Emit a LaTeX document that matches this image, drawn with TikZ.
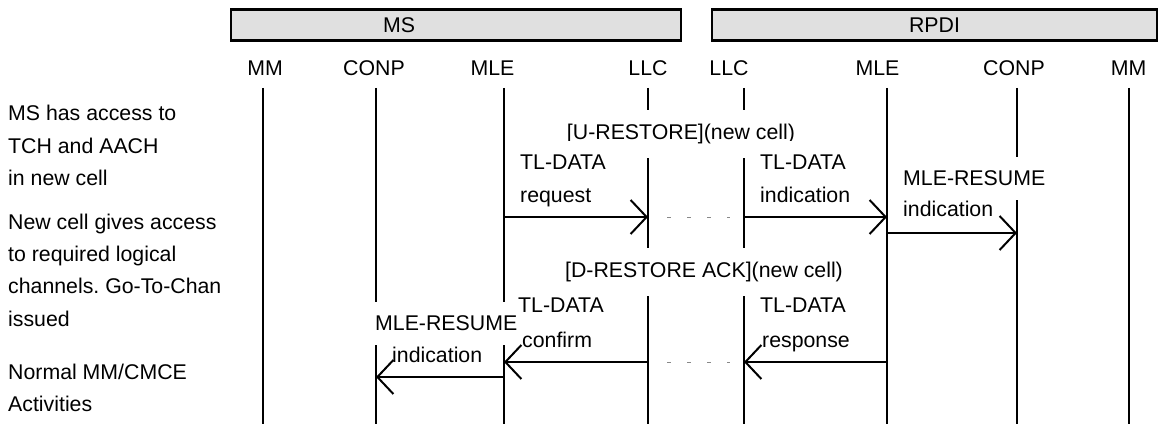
\documentclass[tikz,border=0pt]{standalone}
\usepackage{fontspec}
\setmainfont{Liberation Sans}
\usetikzlibrary{arrows.meta}
\definecolor{headgray}{RGB}{224,224,224}
\definecolor{dashgray}{RGB}{136,136,136}
\frenchspacing

\begin{document}
\begin{tikzpicture}[x=1pt, y=-1pt,
    every node/.style={font=\fontsize{21.3}{32.3}\selectfont, inner sep=0pt},
    party/.style={draw, line width=2.5pt, fill=headgray, minimum height=31pt},
    life/.style={line width=2pt},
    msg/.style={line width=2pt, -{Straight Barb[length=16pt, width=34pt]}},
    relay/.style={dashgray, line width=1pt, dash pattern=on 3.5pt off 16.5pt,
                  shorten <=19pt, shorten >=14pt},
    tag/.style={fill=white, inner xsep=2pt, inner ysep=14pt, anchor=base west},
    note/.style={align=left, anchor=west}]
    \useasboundingbox (0,0) rectangle (1160,428);
    % Draw the two entity boxes
    \node[party, minimum width=450pt] (msbox) at (456,25) {};
    \node (mstitle) at (399,25) {MS};
    \node[party, minimum width=445pt] (rpbox) at (934.5,25) {RPDI};
    % Layer names
    \node (msMMname) at (265,68) {MM};
    \node (msCONPname) at (374,68) {CONP};
    \node (msMLEname) at (492.5,68) {MLE};
    \node (msLLCname) at (648,68) {LLC};
    \node (rpLLCname) at (729,68) {LLC};
    \node (rpMLEname) at (877.5,68) {MLE};
    \node (rpCONPname) at (1014,68) {CONP};
    \node (rpMMname) at (1128.5,68) {MM};
    % Lifelines
    \coordinate (msMM) at (263,88);
    \coordinate (msCONP) at (376,88);
    \coordinate (msMLE) at (504,88);
    \coordinate (msLLC) at (648,88);
    \coordinate (rpLLC) at (744,88);
    \coordinate (rpMLE) at (887,88);
    \coordinate (rpCONP) at (1017,88);
    \coordinate (rpMM) at (1129,88);
    \coordinate (bottom) at (0,424);
    \foreach \l in {msMM,msCONP,msMLE,msLLC,rpLLC,rpMLE,rpCONP,rpMM}
        \draw[life] (\l) -- (\l |- bottom);
    % Message levels
    \coordinate (y1) at (0,217);
    \coordinate (y2) at (0,233);
    \coordinate (y3) at (0,362);
    \coordinate (y4) at (0,377);
    % Notes on the left
    \node[note] (noteA) at (8,145.5) {MS has access to\\TCH and AACH\\in new cell};
    \node[note] (noteB) at (8,270) {New cell gives access\\to required logical\\channels. Go-To-Chan\\issued};
    \node[note] (noteC) at (8,388) {Normal MM/CMCE\\Activities};
    % Primitive labels
    \node[tag, anchor=base] (urestore) at (681,139.6) {[U-RESTORE](new cell)};
    \node[tag] (reqA) at (518,169.6) {TL-DATA};
    \node[tag] (reqB) at (518,202.6) {request};
    \node[tag] (indA) at (758,169.6) {TL-DATA};
    \node[tag] (indB) at (758,202.6) {indication};
    \node[tag] (resumeA) at (901,185.6) {MLE-RESUME};
    \node[tag] (resumeB) at (901,216.6) {indication};
    \node[tag, anchor=base] (drestore) at (704,277.6) {[D-RESTORE ACK](new cell)};
    \node[tag] (conA) at (516,312.6) {TL-DATA};
    \node[tag] (conB) at (520,347.6) {confirm};
    \node[tag] (resA) at (758,312.6) {TL-DATA};
    \node[tag] (resB) at (760,347.6) {response};
    \node[tag] (backA) at (373,330.6) {MLE-RESUME};
    \node[tag] (backB) at (390,362.6) {indication};
    % Uplink restore
    \draw[msg] (msMLE |- y1) -- (msLLC |- y1);
    \draw[relay] (msLLC |- y1) -- (rpLLC |- y1);
    \draw[msg] (rpLLC |- y1) -- (rpMLE |- y1);
    \draw[msg] (rpMLE |- y2) -- (rpCONP |- y2);
    % Downlink acknowledgement
    \draw[msg] (rpMLE |- y3) -- (rpLLC |- y3);
    \draw[relay] (msLLC |- y3) -- (rpLLC |- y3);
    \draw[msg] (msLLC |- y3) -- (msMLE |- y3);
    \draw[msg] (msMLE |- y4) -- (msCONP |- y4);
\end{tikzpicture}
\end{document}
